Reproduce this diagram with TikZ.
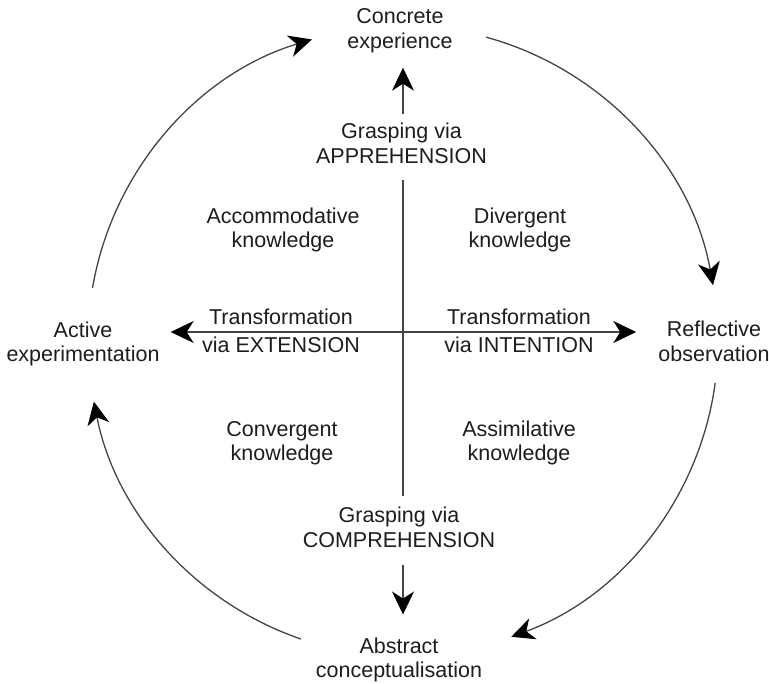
\documentclass[tikz,border=0pt]{standalone}
\usepackage{fontspec}
\setmainfont{Liberation Sans}
\usetikzlibrary{arrows.meta}
\definecolor{txt}{HTML}{1E1C1D}
\definecolor{ln}{HTML}{444444}
\begin{document}
\begin{tikzpicture}[x=1pt,y=1pt,
  lbl/.style={inner sep=0pt, align=center, text=txt, font=\fontsize{21.5}{24.5}\selectfont},
  conn/.style={draw=ln, line width=1.3pt},
  arr/.style={conn, -{Stealth[length=23pt,width=22pt,inset=7pt,color=black]}}]
\useasboundingbox (0,0) rectangle (769,-684);
\coordinate (O) at (403,-341);
\coordinate (C) at (403,-332);
\node[lbl] (ce) at (400,-30.5) {Concrete\\experience};
\node[lbl] (gapp) at (401.5,-143.5) {Grasping via\\APPREHENSION};
\node[lbl] (acc) at (283,-229.8) {Accommodative\\knowledge};
\node[lbl] (div) at (520,-230) {Divergent\\knowledge};
\node[lbl] (tex) at (281,-331.2) {Transformation\\[3.5pt]via EXTENSION};
\node[lbl] (tin) at (519,-331.2) {Transformation\\[3.5pt]via INTENTION};
\node[lbl] (ae) at (83,-344) {Active\\experimentation};
\node[lbl] (ro) at (714,-341.2) {Reflective\\observation};
\node[lbl] (con) at (282,-443) {Convergent\\knowledge};
\node[lbl] (ass) at (519,-443) {Assimilative\\knowledge};
\node[lbl] (gcomp) at (399,-527.5) {Grasping via\\COMPREHENSION};
\node[lbl] (abs) at (399,-660) {Abstract\\conceptualisation};
% vertical axis
\draw[arr] ([yshift=9pt]gapp.north -| O) -- ([yshift=-15pt]ce.south -| O);
\draw[conn] ([yshift=-16pt]gapp.south -| O) -- ([yshift=11.5pt]gcomp.north -| O);
\draw[arr] ([yshift=-17pt]gcomp.south -| O) -- ([yshift=23pt]abs.north -| O);
% horizontal axis
\draw[arr] (C) -- ([xshift=11pt]ae.east |- C);
\draw[arr] (C) -- ([xshift=-22pt]ro.west |- C);
% cycle arcs
\draw[arr] (O) ++(170.3:315) arc[start angle=170.3, end angle=106.8, radius=315];
\draw[arr] (O) ++(74.7:315) arc[start angle=74.7, end angle=10.2, radius=315];
\draw[arr] (O) ++(-7.7:315) arc[start angle=-7.7, end angle=-69.9, radius=315];
\draw[arr] (O) ++(251.1:315) arc[start angle=251.1, end angle=191.1, radius=315];
\end{tikzpicture}
\end{document}
